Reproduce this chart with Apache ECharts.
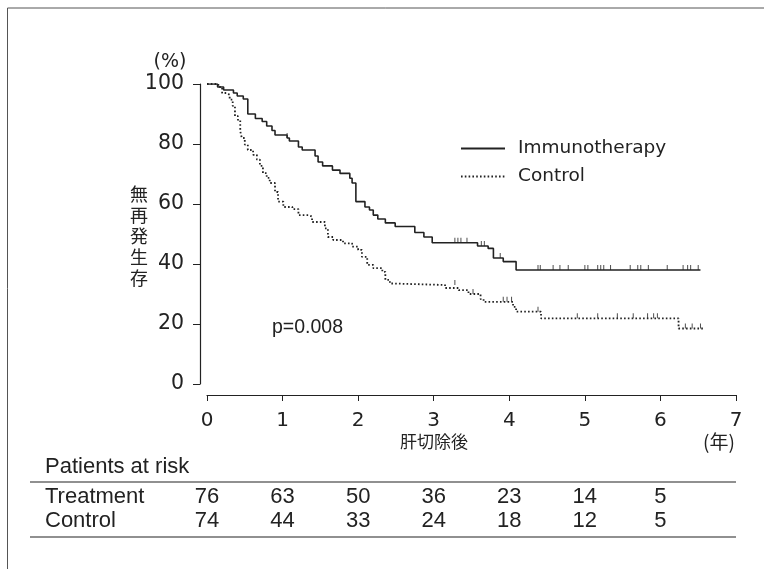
<!DOCTYPE html>
<html lang="ja">
<head>
<meta charset="UTF-8">
<title>無再発生存</title>
<script src="https://cdn.jsdelivr.net/npm/echarts@6/dist/echarts.min.js"></script>
</head>
<body style="margin:0;background:#fff">
<div id="main" style="width:764px;height:569px;"></div>
<script>
// 生存曲線 [年, %] (step)
var immunoCurve = [[0,100],[0.14,99],[0.22,98],[0.35,97],[0.40,96],[0.48,95],[0.54,90],[0.64,88.5],[0.73,87.5],[0.79,86],[0.86,84.5],[0.90,83],[1.06,82],[1.09,81],[1.21,79],[1.26,78],[1.43,76],[1.47,74],[1.53,72.7],[1.66,71.3],[1.76,70.2],[1.89,68.6],[1.92,67],[1.97,60.8],[2.09,59],[2.15,58],[2.20,56.3],[2.26,55],[2.36,53.7],[2.49,52.5],[2.75,50.5],[2.87,49],[2.98,47.1],[3.58,46],[3.72,45.2],[3.79,42],[3.92,40.8],[4.09,38],[6.53,38]];
var controlCurve = [[0,100],[0.15,99],[0.20,97],[0.26,96.4],[0.30,94.8],[0.34,92.7],[0.37,89.3],[0.41,88],[0.44,84.3],[0.46,82],[0.50,79.8],[0.54,78],[0.61,76.4],[0.66,74.8],[0.70,72.7],[0.74,70.3],[0.79,68.7],[0.83,67],[0.90,64],[0.94,60.8],[1.01,59],[1.13,58.3],[1.21,56.3],[1.34,55.8],[1.39,54],[1.56,51.9],[1.60,49],[1.67,48],[1.80,46.9],[1.92,45.8],[2.00,44.7],[2.05,42.4],[2.12,39.7],[2.20,38.6],[2.32,37.4],[2.36,34.7],[2.42,33.5],[2.46,33],[3.15,32],[3.33,31.3],[3.46,30],[3.62,28.3],[3.66,27.4],[4.05,25.7],[4.09,24.1],[4.42,21.9],[6.24,18.5],[6.57,18.5]];
// 打ち切り
var immunoCensor = [[1.06,82],[3.28,47.1],[3.32,47.1],[3.36,47.1],[3.44,47.1],[3.63,46],[3.67,46],[3.88,42],[4.38,38],[4.41,38],[4.58,38],[4.67,38],[4.78,38],[5.0,38],[5.04,38],[5.17,38],[5.21,38],[5.25,38],[5.34,38],[5.6,38],[5.7,38],[5.74,38],[5.84,38],[6.09,38],[6.3,38],[6.36,38],[6.4,38],[6.5,38]];
var controlCensor = [[3.28,33],[3.52,30],[3.92,27.4],[3.97,27.4],[4.03,27.4],[4.38,24.1],[4.9,21.9],[5.17,21.9],[5.43,21.9],[5.64,21.9],[5.83,21.9],[5.91,21.9],[5.96,21.9],[6.33,18.5],[6.42,18.5],[6.53,18.5]];
// Patients at risk
var riskYears = [0, 1, 2, 3, 4, 5, 6];
var riskTreatment = [76, 63, 50, 36, 23, 14, 5];
var riskControl = [74, 44, 33, 24, 18, 12, 5];

var ink = '#222';
var latin = 'Liberation Sans, Arial, sans-serif';
var wide = 'DejaVu Sans, sans-serif';
var cjk = 'Noto Sans CJK JP, sans-serif';

var myChart = echarts.init(document.getElementById('main'));

var option = {
    animation: false,
    backgroundColor: '#fff',
    grid: { left: 207, right: 28, top: 84, bottom: 185, outerBoundsMode: 'none' },
    legend: {
        data: ['Immunotherapy', 'Control'],
        orient: 'vertical',
        left: 455, top: 134,
        itemWidth: 44, itemHeight: 14, itemGap: 9,
        itemStyle: { opacity: 0 },
        textStyle: { color: ink, fontSize: 18.5, fontFamily: wide, padding: [0, 0, 0, 8] }
    },
    xAxis: {
        type: 'value', min: 0, max: 7, interval: 1, offset: 11,
        splitLine: { show: false },
        axisLine: { onZero: false, lineStyle: { color: ink, width: 1.2 } },
        axisTick: { inside: false, length: 6, lineStyle: { color: ink } },
        axisLabel: { color: ink, fontSize: 20, fontFamily: wide, margin: 16 }
    },
    yAxis: {
        type: 'value', min: 0, max: 100, interval: 20, offset: 7,
        splitLine: { show: false },
        axisLine: { show: true, onZero: false, lineStyle: { color: ink, width: 1.2 } },
        axisTick: { show: true, length: 7, lineStyle: { color: ink } },
        axisLabel: { color: ink, fontSize: 20.5, fontFamily: wide, margin: 16 }
    },
    series: [
        {
            name: 'Immunotherapy', type: 'line', step: 'end', symbol: 'none',
            lineStyle: { color: ink, width: 1.6 },
            itemStyle: { color: ink },
            data: immunoCurve
        },
        {
            name: 'Control', type: 'line', step: 'end', symbol: 'none',
            lineStyle: { color: ink, width: 1.8, type: [1.6, 2.2] },
            itemStyle: { color: ink },
            data: controlCurve
        },
        {
            type: 'scatter', symbol: 'rect', symbolSize: [1, 5], symbolOffset: [0, -2.5],
            itemStyle: { color: ink }, silent: true,
            data: immunoCensor
        },
        {
            type: 'scatter', symbol: 'rect', symbolSize: [1, 5], symbolOffset: [0, -2.5],
            itemStyle: { color: ink }, silent: true,
            data: controlCensor
        }
    ]
};
myChart.setOption(option);

// 表と注記
var graphics = [
    { type: 'line', shape: { x1: 7.5, y1: 8, x2: 764, y2: 8 }, style: { stroke: '#555', lineWidth: 1 } },
    { type: 'line', shape: { x1: 7.5, y1: 8, x2: 7.5, y2: 569 }, style: { stroke: '#555', lineWidth: 1 } },
    { type: 'text', x: 170, y: 62, style: { text: '(%)', fill: ink, font: '19px ' + wide, align: 'center', verticalAlign: 'middle' } },
    { type: 'text', x: 139, y: 236, style: { text: '無\n再\n発\n生\n存', fill: ink, font: '18px ' + cjk, align: 'center', verticalAlign: 'middle', lineHeight: 21 } },
    { type: 'text', x: 272, y: 328, style: { text: 'p=0.008', fill: ink, font: '19.5px ' + latin, verticalAlign: 'middle' } },
    { type: 'text', x: 434, y: 442, style: { text: '肝切除後', fill: ink, font: '17px ' + cjk, align: 'center', verticalAlign: 'middle' } },
    { type: 'text', x: 719, y: 442, style: { text: '(年)', fill: ink, font: '19px ' + cjk, align: 'center', verticalAlign: 'middle' } },
    { type: 'text', x: 45, y: 467, style: { text: 'Patients at risk', fill: ink, font: '22px ' + latin, verticalAlign: 'middle' } },
    { type: 'line', shape: { x1: 30, y1: 482, x2: 736, y2: 482 }, style: { stroke: ink, lineWidth: 1.2 } },
    { type: 'text', x: 45, y: 497, style: { text: 'Treatment', fill: ink, font: '22px ' + latin, verticalAlign: 'middle' } },
    { type: 'text', x: 45, y: 521, style: { text: 'Control', fill: ink, font: '22px ' + latin, verticalAlign: 'middle' } },
    { type: 'line', shape: { x1: 30, y1: 537, x2: 736, y2: 537 }, style: { stroke: ink, lineWidth: 1.2 } }
];
riskYears.forEach(function (yr, i) {
    var px = myChart.convertToPixel({ xAxisIndex: 0 }, yr);
    graphics.push({ type: 'text', x: px, y: 497, style: { text: String(riskTreatment[i]), fill: ink, font: '22px ' + latin, align: 'center', verticalAlign: 'middle' } });
    graphics.push({ type: 'text', x: px, y: 521, style: { text: String(riskControl[i]), fill: ink, font: '22px ' + latin, align: 'center', verticalAlign: 'middle' } });
});
myChart.setOption({ graphic: graphics });
</script>
</body>
</html>
